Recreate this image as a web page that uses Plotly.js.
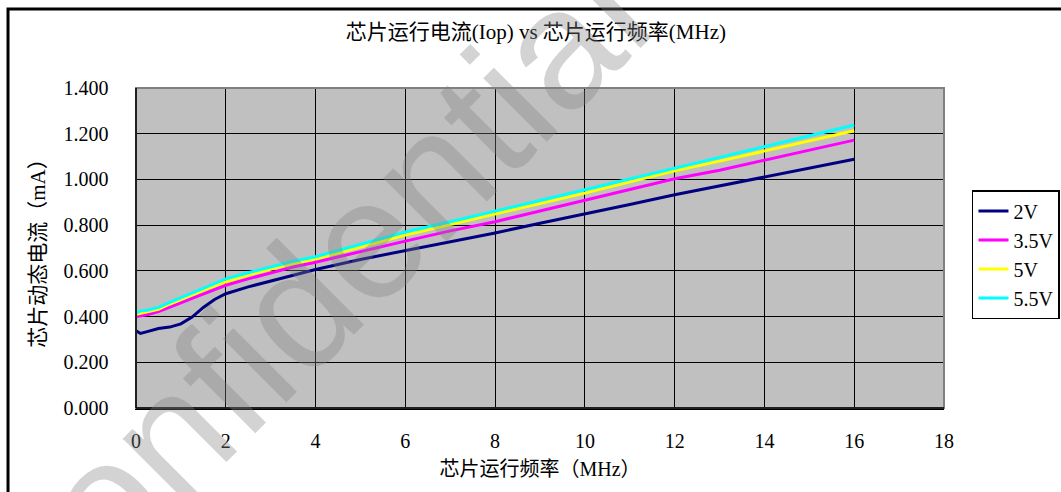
<!DOCTYPE html>
<html>
<head>
<meta charset="utf-8">
<script src="https://cdn.plot.ly/plotly-3.0.1.min.js"></script>
<style>html,body{margin:0;padding:0;background:#fff;}#chart{width:1061px;height:492px;}</style>
</head>
<body>
<div id="chart"></div>
<script>
// ---- data ----
const freq = [0, 0.1, 0.25, 0.5, 0.75, 1, 1.25, 1.5, 1.75, 2, 2.5, 3, 3.5, 4, 5, 6, 7, 8, 9, 10, 11, 12, 13, 14, 15, 16];
const i2V   = [0.338, 0.326, 0.334, 0.348, 0.354, 0.368, 0.398, 0.440, 0.475, 0.500, 0.530, 0.556, 0.582, 0.606, 0.650, 0.688, 0.727, 0.766, 0.808, 0.848, 0.890, 0.933, 0.972, 1.012, 1.050, 1.088];
const i3_5V = [0.400, 0.403, 0.408, 0.422, 0.440, 0.460, 0.480, 0.500, 0.519, 0.537, 0.565, 0.592, 0.617, 0.638, 0.685, 0.730, 0.775, 0.815, 0.862, 0.908, 0.955, 1.003, 1.040, 1.083, 1.127, 1.172];
const i5V   = [0.410, 0.415, 0.420, 0.432, 0.455, 0.476, 0.496, 0.515, 0.534, 0.552, 0.582, 0.608, 0.632, 0.652, 0.705, 0.757, 0.803, 0.848, 0.895, 0.940, 0.990, 1.038, 1.080, 1.125, 1.168, 1.213];
const i5_5V = [0.415, 0.425, 0.428, 0.440, 0.462, 0.483, 0.504, 0.525, 0.545, 0.565, 0.592, 0.618, 0.642, 0.662, 0.716, 0.770, 0.815, 0.860, 0.908, 0.955, 1.002, 1.048, 1.098, 1.145, 1.192, 1.238];
const seriesNames = ["2V", "3.5V", "5V", "5.5V"];
const yTickVals = [0, 0.2, 0.4, 0.6, 0.8, 1.0, 1.2, 1.4];
const yTickText = ["0.000", "0.200", "0.400", "0.600", "0.800", "1.000", "1.200", "1.400"];
const xTickVals = [0, 2, 4, 6, 8, 10, 12, 14, 16, 18];

const FONT = "'Liberation Serif', 'Noto Sans CJK SC', serif";
const colors = ["#000080", "#FF00FF", "#FFFF00", "#00FFFF"];
const ys = [i2V, i3_5V, i5V, i5_5V];

const traces = ys.map((y, k) => ({
  x: freq, y: y, name: seriesNames[k], type: "scatter", mode: "lines",
  line: {color: colors[k], width: 3}
}));

const layout = {
  width: 1061, height: 492,
  paper_bgcolor: "#ffffff", plot_bgcolor: "#C0C0C0",
  margin: {l: 136, r: 117, t: 88, b: 84},
  font: {family: FONT, size: 18, color: "#000"},
  title: {text: "芯片运行电流(Iop) vs 芯片运行频率(MHz)", font: {family: FONT, size: 21, color: "#000"},
          x: 0.505, xanchor: "center", y: 0.935, yanchor: "middle"},
  xaxis: {
    range: [0, 18], tickvals: xTickVals, ticktext: xTickVals.map(String),
    showgrid: true, gridcolor: "#000", gridwidth: 1,
    showline: true, linecolor: "#000", linewidth: 1.5,
    zeroline: false, ticks: "", ticklabelstandoff: 14,
    tickfont: {family: FONT, size: 20, color: "#000"},
    title: {text: "芯片运行频率（MHz）", font: {family: FONT, size: 20, color: "#000"}, standoff: 11}
  },
  yaxis: {
    range: [0, 1.4], tickvals: yTickVals, ticktext: yTickText,
    showgrid: true, gridcolor: "#000", gridwidth: 1,
    showline: true, linecolor: "#000", linewidth: 1.5,
    zeroline: false, ticks: "", ticklabelstandoff: 22,
    tickfont: {family: FONT, size: 20, color: "#000"},
    title: {text: "芯片动态电流（mA）", font: {family: FONT, size: 21, color: "#000"}, standoff: 12}
  },
  legend: {
    xref: "container", yref: "container",
    x: 0.9161, y: 0.6138, xanchor: "left", yanchor: "top",
    bgcolor: "#fff", bordercolor: "#000", borderwidth: 1.5,
    font: {family: FONT, size: 20, color: "#000"},
    tracegroupgap: 0, itemwidth: 30
  },
  showlegend: true,
  shapes: [
    {type: "rect", xref: "paper", yref: "paper", x0: 0, x1: 1, y0: 0, y1: 1,
     line: {color: "#808080", width: 2}, layer: "above"},
    {type: "line", xref: "paper", yref: "paper", x0: 0, x1: 0, y0: 0, y1: 1, line: {color: "#000", width: 1.5}, layer: "above"},
    {type: "line", xref: "paper", yref: "paper", x0: 0, x1: 1, y0: 0, y1: 0, line: {color: "#000", width: 1.5}, layer: "above"},
    {type: "rect", xref: "paper", yref: "paper", x0: -0.1584, x1: 1.2, y0: -0.35, y1: 1.2469,
     line: {color: "#000", width: 3}, layer: "below"}
  ],
  annotations: [
    {text: "Confidential", xref: "paper", yref: "paper", x: 0.203, y: 0.322,
     xanchor: "center", yanchor: "middle", showarrow: false, textangle: -45,
     font: {family: "'Liberation Sans', Arial, sans-serif", size: 170, color: "rgba(128,128,128,0.35)"}}
  ]
};

Plotly.newPlot("chart", traces, layout, {displayModeBar: false, staticPlot: true});
</script>
</body>
</html>
